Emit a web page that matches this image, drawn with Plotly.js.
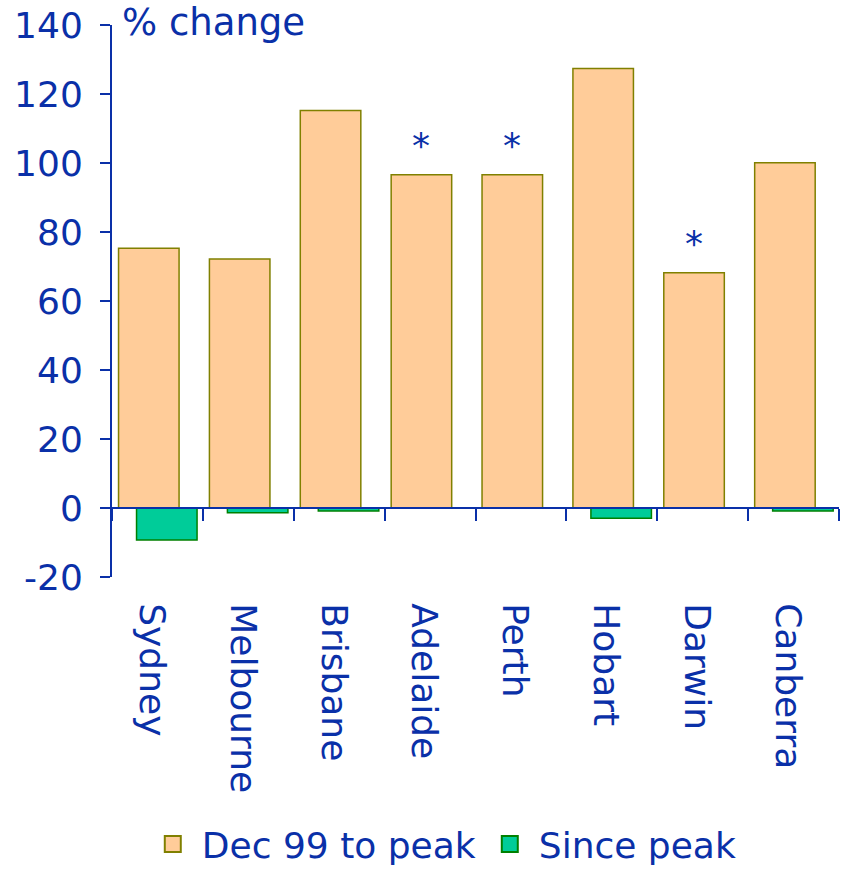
<!DOCTYPE html>
<html>
<head>
<meta charset="utf-8">
<script src="https://cdn.plot.ly/plotly-3.0.1.min.js"></script>
<style>html,body{margin:0;padding:0;background:#fff;}#chart{width:843px;height:876px;}</style>
</head>
<body>
<div id="chart"></div>
<script>
var cities = ["Sydney", "Melbourne", "Brisbane", "Adelaide", "Perth", "Hobart", "Darwin", "Canberra"];
var toPeak = [75.3, 72.2, 115.2, 96.6, 96.6, 127.4, 68.2, 100.1];
var sincePeak = [-9.3, -1.4, -0.9, 0, 0, -3.0, 0, -0.9];
var notes = ["", "", "", "*", "*", "", "*", ""];
var yTicks = [-20, 0, 20, 40, 60, 80, 100, 120, 140];
var yRange = [-20, 140];
var seriesNames = ["Dec 99 to peak", "Since peak"];

var blue = "#0A30A8";
var font = "DejaVu Sans, Verdana, sans-serif";
var fills = ["#FFCC99", "#00CC99"];
var edges = ["#808000", "#008000"];

var traces = [
  {
    type: "bar", name: seriesNames[0], x: cities, y: toPeak,
    width: 0.666, offset: -0.428, showlegend: false,
    marker: {color: fills[0], line: {color: edges[0], width: 1.5}},
    hoverinfo: "skip"
  },
  {
    type: "bar", name: seriesNames[1], x: cities, y: sincePeak,
    width: 0.666, offset: -0.23, showlegend: false,
    marker: {color: fills[1], line: {color: edges[1], width: 1.5}},
    hoverinfo: "skip"
  }
];
// legend entries with larger square swatches
seriesNames.forEach(function (n, i) {
  traces.push({
    type: "scatter", mode: "markers", name: n, x: [null], y: [null],
    marker: {symbol: "square", size: 22, color: fills[i], line: {color: edges[i], width: 2}},
    hoverinfo: "skip"
  });
});

var annotations = [];
cities.forEach(function (c, i) {
  if (notes[i]) {
    annotations.push({x: c, y: toPeak[i], xref: "x", yref: "y", text: notes[i],
      showarrow: false, yshift: 29, xshift: -9, font: {family: font, size: 36, color: blue}});
  }
});
annotations.push({xref: "paper", yref: "paper", x: 0, y: 1, xshift: 8, yshift: 3, xanchor: "left", yanchor: "middle",
  text: "% change", showarrow: false, font: {family: font, size: 37, color: blue}});

var zeroPos = (0 - yRange[0]) / (yRange[1] - yRange[0]);
var plotH = 876 - 25 - 299;

var layout = {
  width: 843, height: 876,
  margin: {l: 112, r: 4, t: 25, b: 299, autoexpand: false},
  paper_bgcolor: "#fff", plot_bgcolor: "#fff",
  barmode: "overlay",
  showlegend: true,
  font: {family: font, size: 36, color: blue},
  xaxis: {
    type: "category", anchor: "free", position: zeroPos,
    range: [-0.5, cities.length - 0.5], automargin: false,
    showline: true, linecolor: blue, linewidth: 2,
    ticks: "outside", tickson: "boundaries", ticklen: 12, tickwidth: 2, tickcolor: blue,
    tickangle: 90, ticklabelstandoff: 87, ticklabelshift: -6,
    showgrid: false, zeroline: false,
    tickfont: {family: font, size: 36, color: blue}
  },
  yaxis: {
    range: yRange, tickvals: yTicks, ticktext: yTicks.map(String), automargin: false,
    showline: true, linecolor: blue, linewidth: 2,
    ticks: "outside", ticklen: 10, tickwidth: 2, tickcolor: blue,
    showgrid: false, zeroline: false,
    ticklabelstandoff: 10,
    tickfont: {family: font, size: 36, color: blue}
  },
  legend: {
    orientation: "h", x: 0.455, xanchor: "center", y: -(299 - 2) / plotH, yanchor: "bottom",
    font: {family: font, size: 36, color: blue},
    itemsizing: "trace", itemwidth: 48,
    traceorder: "normal"
  },
  annotations: annotations
};

Plotly.newPlot("chart", traces, layout, {staticPlot: true});
</script>
</body>
</html>
